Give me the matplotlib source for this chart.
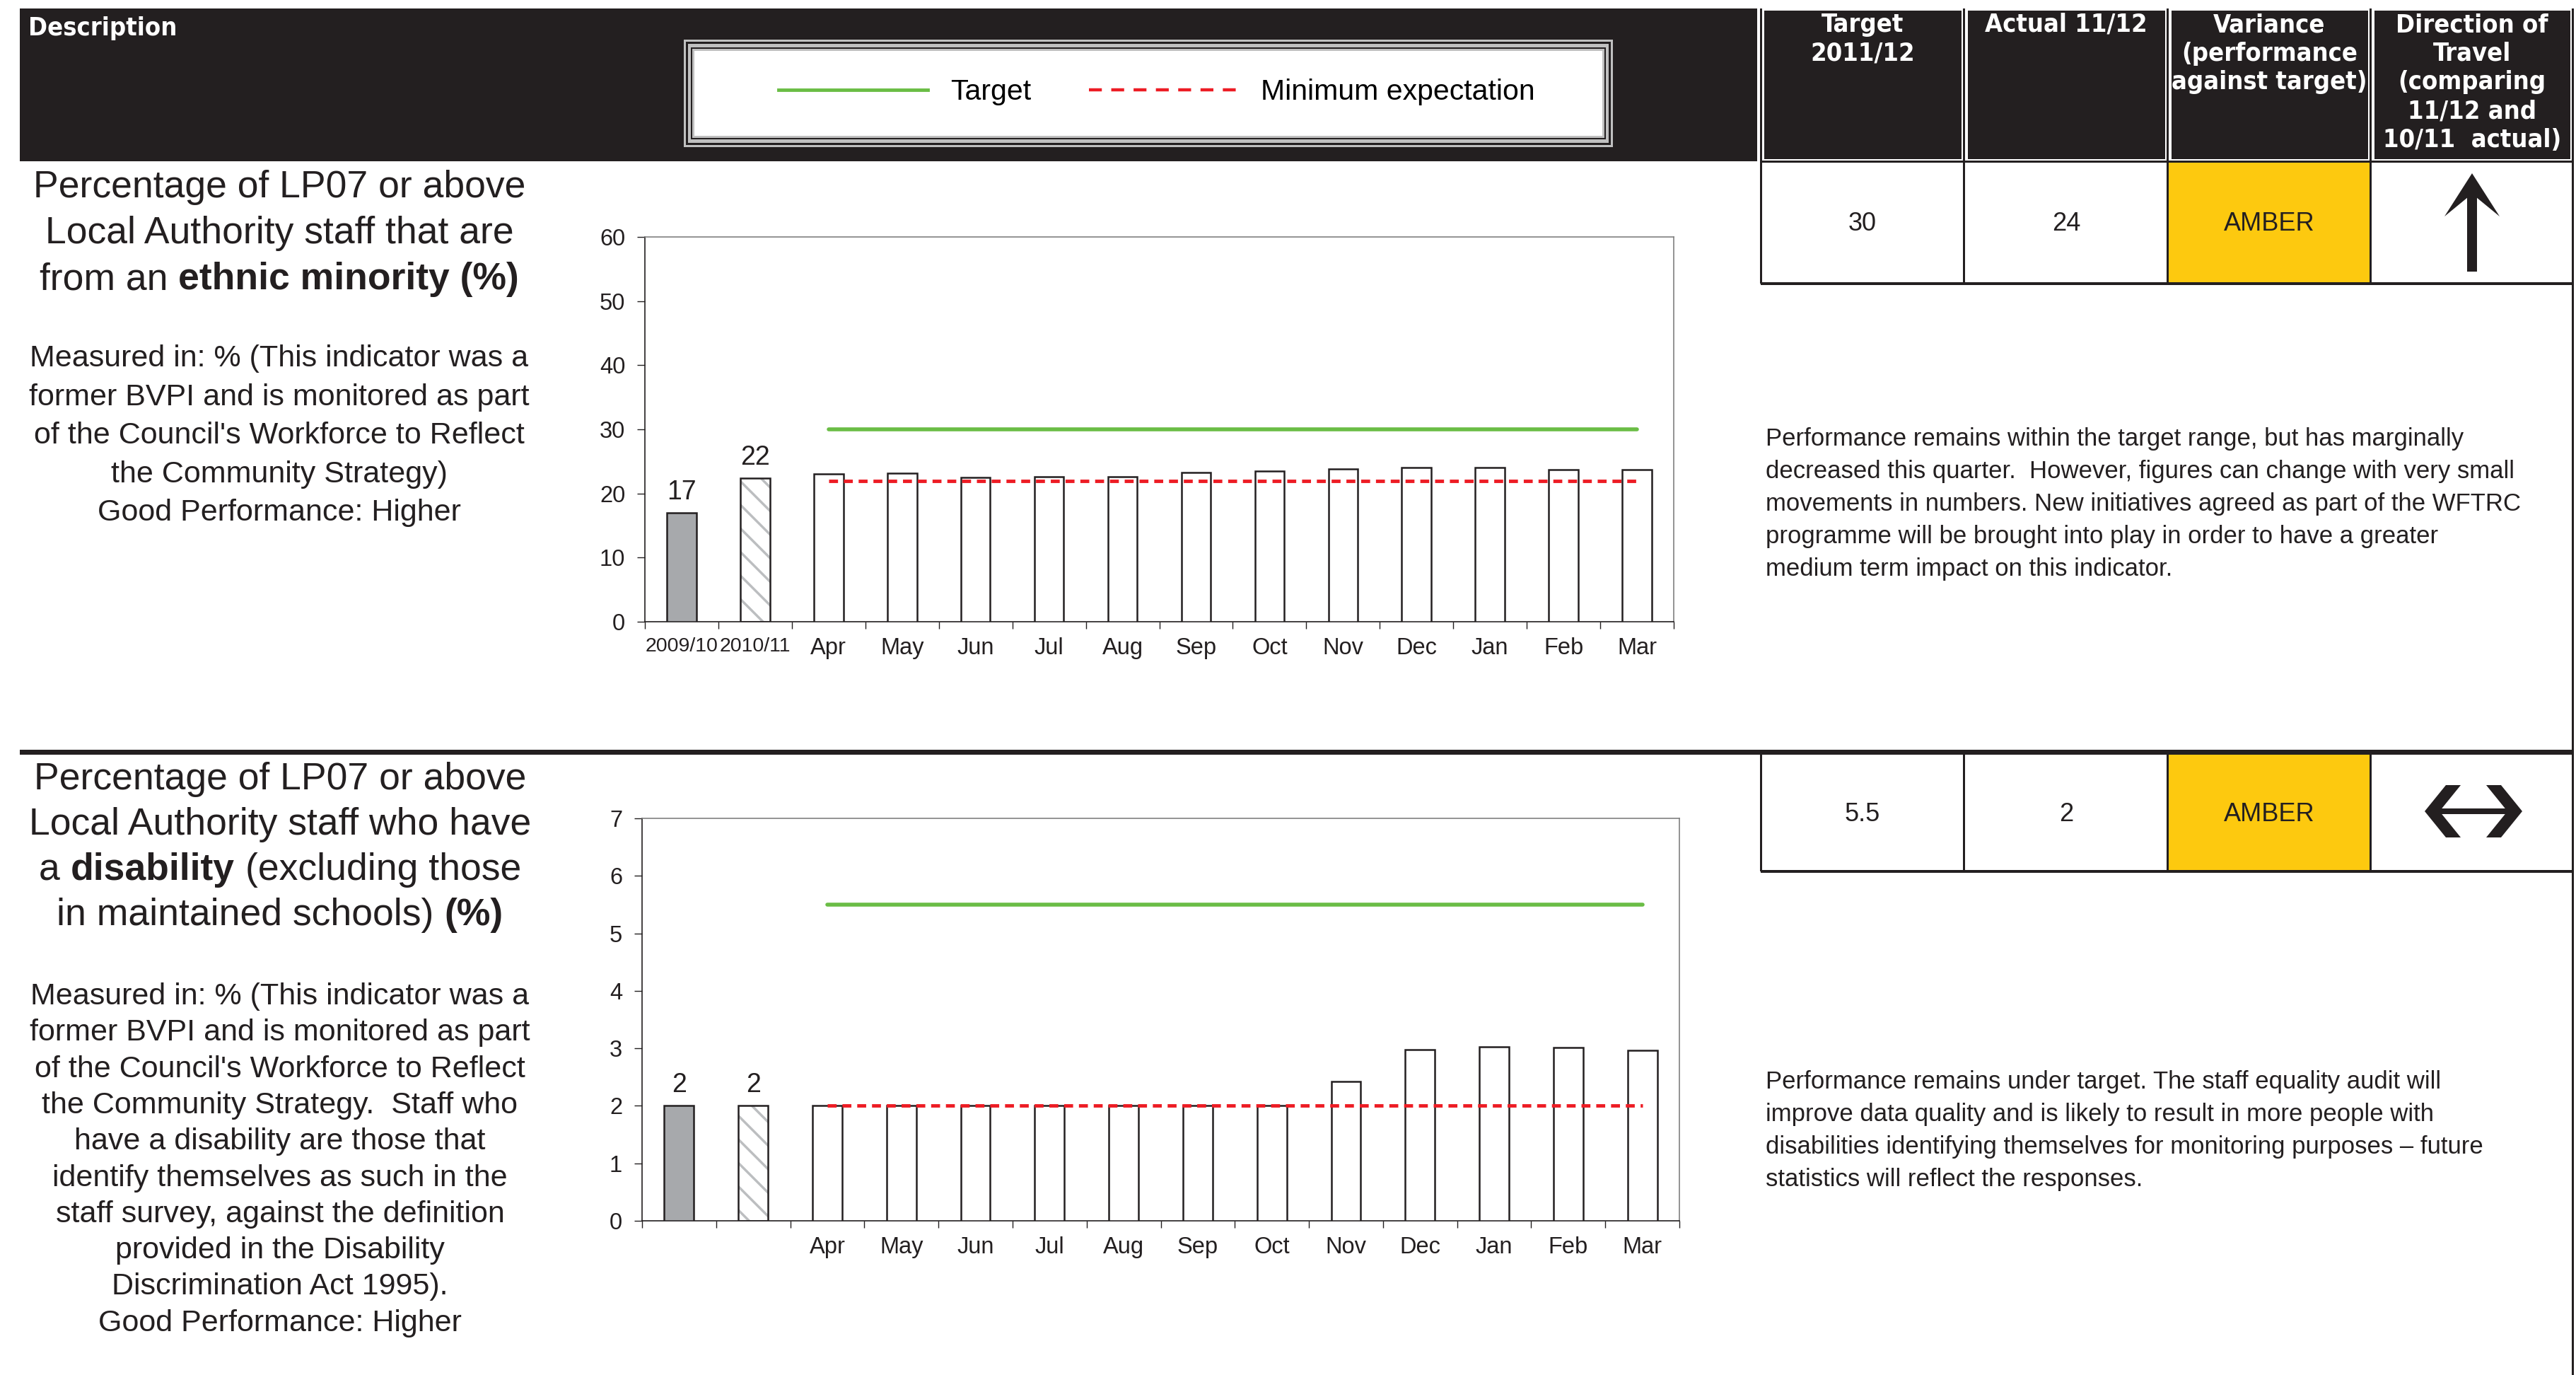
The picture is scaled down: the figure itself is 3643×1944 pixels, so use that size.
import matplotlib
matplotlib.use("Agg")
import matplotlib.pyplot as plt
from matplotlib.patches import Rectangle, Polygon
from matplotlib.lines import Line2D
import numpy as np

# ---- data ----
hist_labels = ["2009/10", "2010/11"]
months = ["Apr", "May", "Jun", "Jul", "Aug", "Sep", "Oct", "Nov", "Dec", "Jan", "Feb", "Mar"]

ethnic_hist = [17.0, 22.4]
ethnic_hist_text = ["17", "22"]
ethnic_monthly = [23.1, 23.2, 22.5, 22.6, 22.6, 23.3, 23.5, 23.8, 24.0, 24.0, 23.7, 23.7]
ethnic_target = 30
ethnic_minimum = 22

disab_hist = [2.0, 2.0]
disab_hist_text = ["2", "2"]
disab_monthly = [2.0, 2.0, 2.0, 2.0, 2.0, 2.0, 2.0, 2.42, 2.98, 3.03, 3.01, 2.96]
disab_target = 5.5
disab_minimum = 2

table_target = ["30", "5.5"]
table_actual = ["24", "2"]
table_variance = ["AMBER", "AMBER"]

W, H = 3643, 1944
INK = "#231F20"
GREEN = "#6ABD45"
RED = "#ED1C24"
AMBER = "#FDC90F"
GREY_BAR = "#A7A9AC"

plt.rcParams["font.family"] = ["Liberation Sans", "DejaVu Sans"]
plt.rcParams["hatch.linewidth"] = 2.5

fig = plt.figure(figsize=(W / 100, H / 100), dpi=100)
bg = fig.add_axes([0, 0, 1, 1])
bg.set_xlim(0, W)
bg.set_ylim(H, 0)
bg.axis("off")
renderer = fig.canvas.get_renderer()

HEAD = dict(color="white", fontsize=26, fontweight="bold", family="DejaVu Sans",
            fontstretch="condensed")


def box(x0, y0, x1, y1, color, z=1):
    bg.add_patch(Rectangle((x0, y0), x1 - x0, y1 - y0, facecolor=color,
                           edgecolor="none", zorder=z))


def text_width(s, size, weight="normal"):
    t = bg.text(0, 0, s, fontsize=size, fontweight=weight)
    w = t.get_window_extent(renderer).width
    t.remove()
    return w


def centered_line(xc, y, parts, size):
    sp = text_width("x x", size) - text_width("xx", size)
    objs, widths = [], []
    for s, wt in parts:
        o = bg.text(0, y, s, fontsize=size, fontweight=wt, ha="left", va="center", color=INK)
        objs.append(o)
        widths.append(o.get_window_extent(renderer).width)
    cur = xc - (sum(widths) + sp * (len(parts) - 1)) / 2
    for o, w in zip(objs, widths):
        o.set_x(cur)
        cur += w + sp


# ---- header band ----
box(28, 12, 2485, 228, INK)
bg.text(40, 50, "Description", va="baseline", ha="left", **HEAD)

# legend frame (double border)
for (dx, dy), c in zip([(0, 0), (3, 3), (6, 6), (10, 11), (12, 13), (15, 16)],
                       ["#C0C0C0", INK, "#C0C0C0", INK, "#C0C0C0", "white"]):
    box(967 + dx, 56 + dy, 2281 - dx, 208 - dy, c, z=2)

# table header cells
col_edges = [2490, 2778, 3066, 3353, 3639]
headers = [["Target", "2011/12"], ["Actual 11/12"],
           ["Variance", "(performance", "against target)"],
           ["Direction of", "Travel", "(comparing", "11/12 and", "10/11  actual)"]]
for i, lines in enumerate(headers):
    x0, x1 = col_edges[i], col_edges[i + 1]
    box(x0 + 5, 15, x1 - 4, 225, INK)
    for j, s in enumerate(lines):
        bg.text((x0 + x1) / 2, 45 + 40.7 * j, s, ha="center", va="baseline", **HEAD)

# table rows
rows = [(229, 401), (1066, 1232)]
for r, (y0, y1) in enumerate(rows):
    box(col_edges[2], y0, col_edges[3], y1, AMBER)
    for i, s in enumerate([table_target[r], table_actual[r], table_variance[r]]):
        bg.text((col_edges[i] + col_edges[i + 1]) / 2, (y0 + y1) / 2 + 2, s,
                fontsize=26, color=INK, ha="center", va="center", zorder=3)
    box(col_edges[0], y1 - 2, W - 3, y1 + 2, INK, z=3)
    for xe in col_edges[1:-1]:
        box(xe - 1.5, y0, xe + 1.5, y1, INK, z=3)
box(col_edges[0], 227, W - 3, 230, INK, z=3)
for xe in col_edges[1:-1]:
    box(xe - 1.5, 12, xe + 1.5, 229, INK, z=3)
box(2489, 12, 2492, 401, INK, z=3)
box(2489, 1066, 2492, 1232, INK, z=3)
box(3637, 12, 3640, H, INK, z=3)

# separator between the two indicators
box(28, 1060, 3640, 1067, INK, z=3)

# direction arrows
bg.add_patch(Rectangle((3489, 268), 14, 116, facecolor=INK, edgecolor="none", zorder=4))
bg.add_patch(Polygon([(3496, 245), (3535, 306), (3496, 274), (3457, 306)],
                     closed=True, facecolor=INK, edgecolor="none", zorder=4))
bg.add_patch(Polygon([(3429, 1147), (3459, 1110), (3480, 1110), (3450, 1147),
                      (3480, 1184), (3459, 1184)], closed=True, facecolor=INK,
                     edgecolor="none", zorder=4))
bg.add_patch(Polygon([(3567, 1147), (3537, 1110), (3516, 1110), (3546, 1147),
                      (3516, 1184), (3537, 1184)], closed=True, facecolor=INK,
                     edgecolor="none", zorder=4))
box(3445, 1143, 3551, 1151, INK, z=4)

# ---- description texts ----
title1 = [[("Percentage of LP07 or above", "normal")],
          [("Local Authority staff that are", "normal")],
          [("from an", "normal"), ("ethnic minority (%)", "bold")]]
body1 = ["Measured in: % (This indicator was a", "former BVPI and is monitored as part",
         "of the Council's Workforce to Reflect", "the Community Strategy)",
         "Good Performance: Higher"]
title2 = [[("Percentage of LP07 or above", "normal")],
          [("Local Authority staff who have", "normal")],
          [("a", "normal"), ("disability", "bold"), ("(excluding those", "normal")],
          [("in maintained schools)", "normal"), ("(%)", "bold")]]
body2 = ["Measured in: % (This indicator was a", "former BVPI and is monitored as part",
         "of the Council's Workforce to Reflect", "the Community Strategy.  Staff who",
         "have a disability are those that", "identify themselves as such in the",
         "staff survey, against the definition", "provided in the Disability",
         "Discrimination Act 1995).", "Good Performance: Higher"]

for j, parts in enumerate(title1):
    centered_line(395, 265 + 65 * j, parts, 38.5)
for j, s in enumerate(body1):
    centered_line(395, 507 + 54.5 * j, [(s, "normal")], 31)
for j, parts in enumerate(title2):
    centered_line(396, 1102 + 64 * j, parts, 38.5)
for j, s in enumerate(body2):
    centered_line(396, 1409 + 51.3 * j, [(s, "normal")], 31)

comment1 = ["Performance remains within the target range, but has marginally",
            "decreased this quarter.  However, figures can change with very small",
            "movements in numbers. New initiatives agreed as part of the WFTRC",
            "programme will be brought into play in order to have a greater",
            "medium term impact on this indicator."]
comment2 = ["Performance remains under target. The staff equality audit will",
            "improve data quality and is likely to result in more people with",
            "disabilities identifying themselves for monitoring purposes \u2013 future",
            "statistics will reflect the responses."]
for j, s in enumerate(comment1):
    bg.text(2497, 630 + 46 * j, s, fontsize=25, color=INK, va="baseline")
for j, s in enumerate(comment2):
    bg.text(2497, 1539 + 46 * j, s, fontsize=25, color=INK, va="baseline")


# ---- charts ----
def chart(px, hist, hist_text, monthly, target, minimum, ymax, ystep, xlabels):
    x0, y0, x1, y1 = px
    ax = fig.add_axes([x0 / W, 1 - y1 / H, (x1 - x0) / W, (y1 - y0) / H])
    vals = list(hist) + list(monthly)
    x = np.arange(len(vals))
    width = 0.4
    ax.bar(x[1:2], vals[1:2], width, color="white", edgecolor="#BCBEC0",
           hatch="\\", linewidth=0, zorder=2)
    faces = [GREY_BAR, "none"] + ["white"] * len(monthly)
    bars = ax.bar(x, vals, width, color=faces, edgecolor=INK, linewidth=1.8, zorder=3)
    ax.bar_label(bars, labels=list(hist_text) + [""] * len(monthly), padding=8,
                 fontsize=27, color=INK)
    mx = x[len(hist):]
    ax.plot(mx, [target] * len(mx), color=GREEN, lw=4, solid_capstyle="round", zorder=4)
    ax.plot(mx, [minimum] * len(mx), color=RED, lw=3.5, dashes=(2.6, 1.7), zorder=4)
    ax.set_xlim(-0.5, len(vals) - 0.5)
    ax.set_ylim(0, ymax)
    ax.set_yticks(np.arange(0, ymax + 0.01, ymax / 6 if False else ystep))
    ax.set_xticks(x)
    ax.set_xticklabels(xlabels)
    ax.set_xticks(np.arange(-0.5, len(vals)), minor=True)
    ax.tick_params(axis="x", which="major", length=0, pad=16, labelsize=23.5, labelcolor=INK)
    ax.tick_params(axis="x", which="minor", length=7, width=1, direction="out", color=INK)
    ax.tick_params(axis="y", length=8, width=1, direction="out", color=INK, pad=12,
                   labelsize=23.5, labelcolor=INK)
    # the two year labels are wider than their slots; shrink them a little
    for lab in ax.get_xticklabels()[:len(hist)]:
        lab.set_fontsize(20.5)
    for side in ["left", "bottom"]:
        ax.spines[side].set_color(INK)
        ax.spines[side].set_linewidth(1.2)
    for side in ["top", "right"]:
        ax.spines[side].set_color("#808080")
        ax.spines[side].set_linewidth(1.2)
    return ax


chart((912, 335, 2367, 879), ethnic_hist, ethnic_hist_text, ethnic_monthly,
      ethnic_target, ethnic_minimum, 60, 10, hist_labels + months)
chart((908, 1157, 2375, 1726), disab_hist, disab_hist_text, disab_monthly,
      disab_target, disab_minimum, 7, 1, ["", ""] + months)

handles = [Line2D([], [], color=GREEN, lw=3.5),
           Line2D([], [], color=RED, lw=3.2, dashes=(4.1, 3.0))]
fig.legend(handles, ["Target", "Minimum expectation"], loc="center",
           bbox_to_anchor=(1636 / W, 1 - 130 / H), ncol=2, frameon=False,
           fontsize=29.5, handlelength=5.15, handletextpad=0.78, columnspacing=2.0)

fig.savefig("out.png", dpi=100)
